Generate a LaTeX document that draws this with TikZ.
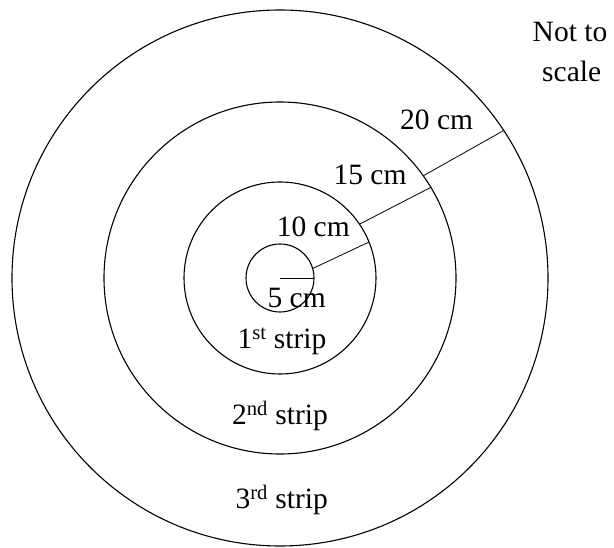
\documentclass[tikz,border=0pt]{standalone}
\usepackage{fontspec}
\setmainfont{Liberation Serif}
\usetikzlibrary{calc}
\tikzset{
  ring/.style={draw=black, line width=1.1pt},
  radline/.style={draw=black, line width=0.8pt},
  lbl/.style={font=\fontsize{29.5}{35}\selectfont, inner sep=0pt, anchor=base}
}

\begin{document}
\begin{tikzpicture}[x=1pt,y=1pt]
        \useasboundingbox (0,0) rectangle (614,547);
        \coordinate (o) at (280,269);

        \foreach \r in {34,96,176,268}
            \draw[ring] (o) circle[radius=\r pt];

        % end points of the radius segments
        \coordinate (a0) at ($(o)+(0:34pt)$);
        \coordinate (a1) at ($(o)+(16.2:34pt)$);
        \coordinate (a2) at ($(o)+(22:96pt)$);
        \coordinate (b1) at ($(o)+(34.1:96pt)$);
        \coordinate (b2) at ($(o)+(31:176pt)$);
        \coordinate (c1) at ($(o)+(35.5:176pt)$);
        \coordinate (c2) at ($(o)+(33.4:268pt)$);

        \draw[radline] (o) -- (a0);
        \foreach \a/\b in {a1/a2,b1/b2,c1/c2}
            \draw[radline] (\a) -- (\b);

        \node[lbl] (l5) at (296.7,239.3) {5 cm};
        \node[lbl] (l10) at (313.3,310.3) {10 cm};
        \node[lbl] (l15) at (370,362) {15 cm};
        \node[lbl] (l20) at (436.7,417) {20 cm};

        \node[lbl] (s1) at (282,198.7) {1\textsuperscript{st} strip};
        \node[lbl] (s2) at (280,122) {2\textsuperscript{nd} strip};
        \node[lbl] (s3) at (281.7,38.7) {3\textsuperscript{rd} strip};

        \node[lbl] (n1) at (570,505.3) {Not to};
        \node[lbl] (n2) at (571.7,465.3) {scale};
    \end{tikzpicture}
\end{document}
